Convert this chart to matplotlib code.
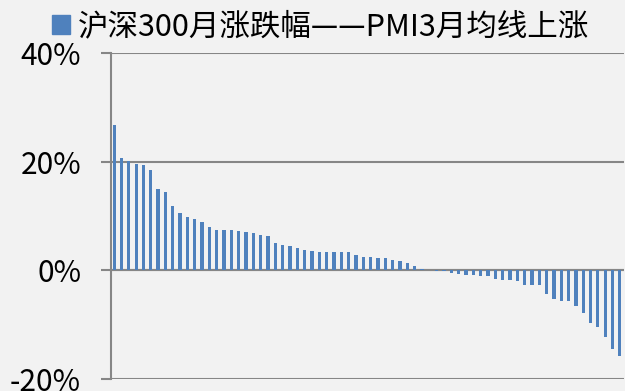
import numpy as np
import matplotlib
matplotlib.use('Agg')
import matplotlib.pyplot as plt
from matplotlib.patches import Patch
from matplotlib.ticker import FuncFormatter

plt.rcParams['font.family'] = ['Noto Sans CJK SC', 'DejaVu Sans']

# monthly change of CSI 300 (%), months when PMI 3-month average rises, sorted
changes = [26.7, 20.6, 20.1, 19.6, 19.3, 18.4, 15.0, 14.5, 11.8, 10.6,
           9.8, 9.5, 8.9, 8.0, 7.4, 7.4, 7.4, 7.3, 7.0, 6.9,
           6.6, 6.4, 5.0, 4.6, 4.5, 4.2, 3.8, 3.5, 3.4, 3.4,
           3.4, 3.4, 3.4, 2.9, 2.5, 2.4, 2.3, 2.2, 2.0, 1.8,
           1.4, 0.9, 0.3, 0.0, -0.1, -0.1, -0.55, -0.7, -0.8, -0.9,
           -1.0, -1.0, -1.6, -1.7, -1.7, -1.9, -2.6, -2.6, -2.6, -4.3,
           -5.3, -5.6, -5.6, -6.5, -7.8, -9.6, -10.4, -12.3, -14.4, -15.7]
y_ticks = [-20, 0, 20, 40]
series_name = '沪深300月涨跌幅——PMI3月均线上涨'

bg = '#f2f2f2'
grid_c = '#868686'
bar_c = '#4f81bd'

fig = plt.figure(figsize=(6.25, 3.91), dpi=100, facecolor=bg)
ax = fig.add_axes([110.5 / 625, 11.7 / 391, 513 / 625, 326.6 / 391])
ax.set_facecolor(bg)

x = np.arange(len(changes))
ax.bar(x, changes, width=0.45, color=bar_c, zorder=3)

ax.set_xlim(-0.5, len(changes) - 0.5)
ax.set_ylim(-20, 40)
ax.set_yticks(y_ticks)
ax.yaxis.set_major_formatter(FuncFormatter(lambda v, p: '%d%%' % v))
ax.set_xticks([])

ax.grid(axis='y', color=grid_c, linewidth=1.5, zorder=1)
ax.axhline(0, color=grid_c, linewidth=1.5, zorder=2)
for s in ['top', 'right', 'bottom']:
    ax.spines[s].set_visible(False)
ax.spines['left'].set_color(grid_c)
ax.spines['left'].set_linewidth(1.5)
ax.spines['left'].set_zorder(4)
ax.tick_params(axis='y', length=7.2, width=1.5, color=grid_c, pad=14,
               labelsize=21.5, labelcolor='black')

fig.legend(handles=[Patch(color=bar_c)], labels=[series_name],
           loc='center left', bbox_to_anchor=(52 / 625, 1 - 27 / 391),
           frameon=False, borderpad=0, borderaxespad=0,
           handlelength=0.6, handleheight=0.6, handletextpad=0.23,
           fontsize=22)

fig.savefig('out.png', dpi=100, facecolor=bg)
